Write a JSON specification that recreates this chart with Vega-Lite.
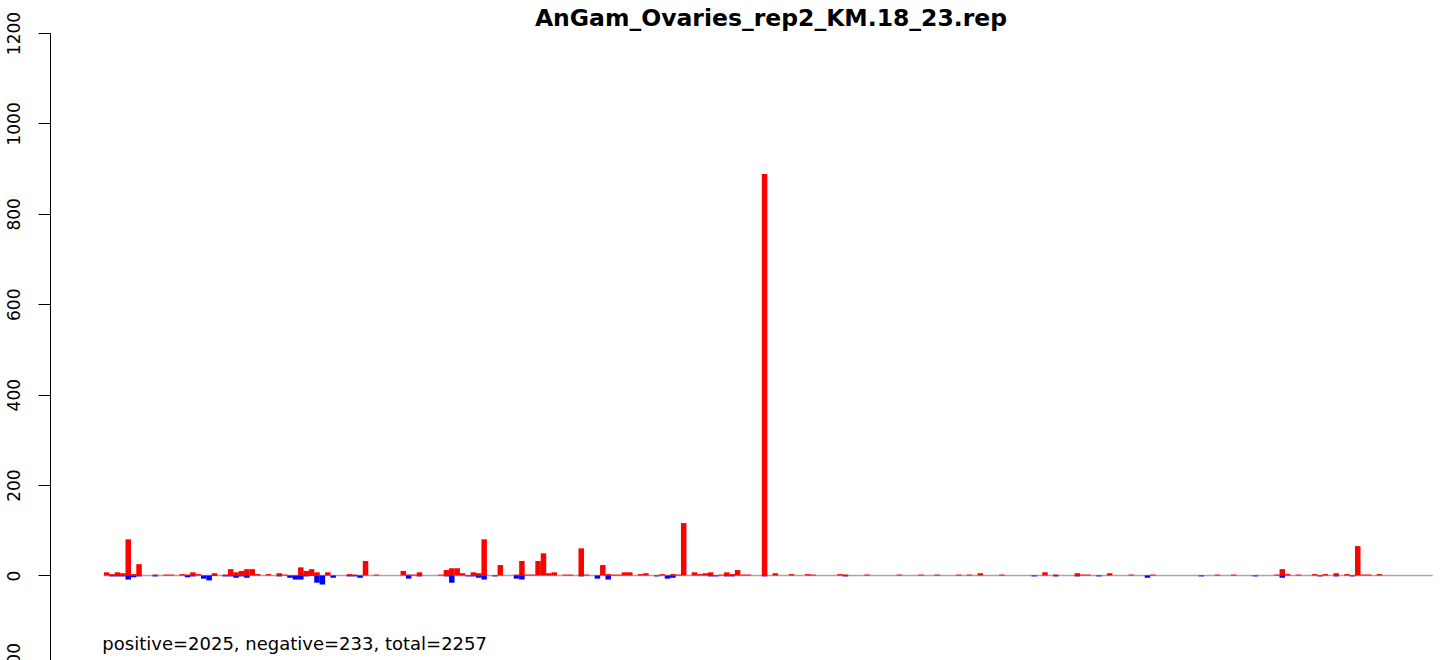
{
  "$schema": "https://vega.github.io/schema/vega-lite/v6.json",
  "width": 1394,
  "height": 627,
  "autosize": "none",
  "padding": {"left": 50, "top": 33, "right": 0, "bottom": 0},
  "background": "white",
  "config": {"view": {"stroke": null}},
  "title": {
    "text": "AnGam_Ovaries_rep2_KM.18_23.rep",
    "font": "DejaVu Sans",
    "fontSize": 23.5,
    "fontWeight": "bold",
    "color": "black",
    "anchor": "middle",
    "frame": "group",
    "baseline": "alphabetic",
    "offset": 0,
    "dx": 24,
    "dy": 38
  },
  "datasets": {
    "counts": [
      {"k":0,"s":"pos","v":7},{"k":1,"s":"pos","v":3},{"k":2,"s":"pos","v":7},{"k":3,"s":"pos","v":5},{"k":4,"s":"pos","v":80},{"k":5,"s":"pos","v":3},{"k":6,"s":"pos","v":25},{"k":9,"s":"pos","v":2},{"k":11,"s":"pos","v":2},{"k":12,"s":"pos","v":2},{"k":14,"s":"pos","v":3},{"k":15,"s":"pos","v":2},{"k":16,"s":"pos","v":7},{"k":17,"s":"pos","v":3},{"k":20,"s":"pos","v":5},{"k":22,"s":"pos","v":2},{"k":23,"s":"pos","v":14},{"k":24,"s":"pos","v":7},{"k":25,"s":"pos","v":10},{"k":26,"s":"pos","v":14},{"k":27,"s":"pos","v":14},{"k":28,"s":"pos","v":3},{"k":30,"s":"pos","v":3},{"k":32,"s":"pos","v":5},{"k":33,"s":"pos","v":2},{"k":36,"s":"pos","v":18},{"k":37,"s":"pos","v":10},{"k":38,"s":"pos","v":14},{"k":39,"s":"pos","v":7},{"k":41,"s":"pos","v":7},{"k":45,"s":"pos","v":3},{"k":46,"s":"pos","v":2},{"k":48,"s":"pos","v":32},{"k":50,"s":"pos","v":2},
      {"k":55,"s":"pos","v":10},{"k":56,"s":"pos","v":2},{"k":57,"s":"pos","v":2},{"k":58,"s":"pos","v":7},{"k":62,"s":"pos","v":2},{"k":63,"s":"pos","v":12},{"k":64,"s":"pos","v":16},{"k":65,"s":"pos","v":16},{"k":66,"s":"pos","v":5},{"k":68,"s":"pos","v":7},{"k":69,"s":"pos","v":5},{"k":70,"s":"pos","v":80},{"k":73,"s":"pos","v":23},{"k":76,"s":"pos","v":2},{"k":77,"s":"pos","v":32},{"k":78,"s":"pos","v":2},{"k":79,"s":"pos","v":2},{"k":80,"s":"pos","v":32},{"k":81,"s":"pos","v":49},{"k":82,"s":"pos","v":5},{"k":83,"s":"pos","v":7},{"k":85,"s":"pos","v":2},{"k":86,"s":"pos","v":2},{"k":88,"s":"pos","v":60},{"k":89,"s":"pos","v":2},{"k":92,"s":"pos","v":23},{"k":93,"s":"pos","v":3},{"k":94,"s":"pos","v":2},{"k":95,"s":"pos","v":2},{"k":96,"s":"pos","v":7},{"k":97,"s":"pos","v":7},{"k":99,"s":"pos","v":3},{"k":100,"s":"pos","v":5},{"k":103,"s":"pos","v":3},{"k":105,"s":"pos","v":3},{"k":106,"s":"pos","v":2},{"k":107,"s":"pos","v":116},
      {"k":109,"s":"pos","v":7},{"k":110,"s":"pos","v":3},{"k":111,"s":"pos","v":5},{"k":112,"s":"pos","v":7},{"k":114,"s":"pos","v":2},{"k":115,"s":"pos","v":7},{"k":116,"s":"pos","v":3},{"k":117,"s":"pos","v":12},{"k":118,"s":"pos","v":2},{"k":119,"s":"pos","v":2},{"k":122,"s":"pos","v":888},{"k":124,"s":"pos","v":5},{"k":127,"s":"pos","v":3},{"k":130,"s":"pos","v":3},{"k":131,"s":"pos","v":2},{"k":136,"s":"pos","v":3},{"k":137,"s":"pos","v":2},{"k":141,"s":"pos","v":2},{"k":147,"s":"pos","v":2},{"k":151,"s":"pos","v":2},{"k":154,"s":"pos","v":2},{"k":158,"s":"pos","v":2},{"k":160,"s":"pos","v":2},{"k":162,"s":"pos","v":5},{"k":166,"s":"pos","v":2},{"k":174,"s":"pos","v":7},{"k":176,"s":"pos","v":2},{"k":180,"s":"pos","v":5},{"k":181,"s":"pos","v":2},{"k":182,"s":"pos","v":2},{"k":186,"s":"pos","v":5},{"k":190,"s":"pos","v":2},{"k":194,"s":"pos","v":2},{"k":206,"s":"pos","v":2},{"k":209,"s":"pos","v":2},{"k":217,"s":"pos","v":2},{"k":218,"s":"pos","v":14},{"k":219,"s":"pos","v":3},{"k":221,"s":"pos","v":2},{"k":224,"s":"pos","v":3},{"k":226,"s":"pos","v":3},{"k":228,"s":"pos","v":5},{"k":230,"s":"pos","v":3},{"k":232,"s":"pos","v":65},{"k":233,"s":"pos","v":2},{"k":234,"s":"pos","v":2},{"k":236,"s":"pos","v":3},
      {"k":1,"s":"neg","v":-2},{"k":2,"s":"neg","v":-2},{"k":3,"s":"neg","v":-2},{"k":4,"s":"neg","v":-9},{"k":5,"s":"neg","v":-4},{"k":6,"s":"neg","v":-2},{"k":9,"s":"neg","v":-2},{"k":15,"s":"neg","v":-4},{"k":16,"s":"neg","v":-2},{"k":18,"s":"neg","v":-7},{"k":19,"s":"neg","v":-11},{"k":20,"s":"neg","v":-1},{"k":22,"s":"neg","v":-2},{"k":23,"s":"neg","v":-2},{"k":24,"s":"neg","v":-5},{"k":25,"s":"neg","v":-2},{"k":26,"s":"neg","v":-5},{"k":32,"s":"neg","v":-2},{"k":34,"s":"neg","v":-5},{"k":35,"s":"neg","v":-9},{"k":36,"s":"neg","v":-9},{"k":37,"s":"neg","v":-2},{"k":38,"s":"neg","v":-1},{"k":39,"s":"neg","v":-16},{"k":40,"s":"neg","v":-20},{"k":42,"s":"neg","v":-5},{"k":45,"s":"neg","v":-2},{"k":46,"s":"neg","v":-2},{"k":47,"s":"neg","v":-5},
      {"k":56,"s":"neg","v":-7},{"k":58,"s":"neg","v":-2},{"k":63,"s":"neg","v":-2},{"k":64,"s":"neg","v":-16},{"k":67,"s":"neg","v":-2},{"k":68,"s":"neg","v":-2},{"k":69,"s":"neg","v":-5},{"k":70,"s":"neg","v":-9},{"k":72,"s":"neg","v":-2},{"k":76,"s":"neg","v":-7},{"k":77,"s":"neg","v":-9},{"k":88,"s":"neg","v":-2},{"k":91,"s":"neg","v":-7},{"k":93,"s":"neg","v":-9},{"k":102,"s":"neg","v":-2},{"k":104,"s":"neg","v":-7},{"k":105,"s":"neg","v":-5},{"k":112,"s":"neg","v":-2},{"k":113,"s":"neg","v":-2},{"k":115,"s":"neg","v":-2},{"k":116,"s":"neg","v":-2},{"k":122,"s":"neg","v":-2},{"k":137,"s":"neg","v":-2},{"k":172,"s":"neg","v":-2},{"k":176,"s":"neg","v":-2},{"k":180,"s":"neg","v":-2},{"k":184,"s":"neg","v":-2},{"k":193,"s":"neg","v":-5},{"k":203,"s":"neg","v":-2},{"k":213,"s":"neg","v":-2},{"k":218,"s":"neg","v":-5},{"k":225,"s":"neg","v":-2},{"k":228,"s":"neg","v":-2},{"k":231,"s":"neg","v":-2}
    ],
    "note": [{"label": "positive=2025, negative=233, total=2257"}]
  },
  "layer": [
    {
      "data": {"name": "note"},
      "mark": {"type": "rule", "stroke": "#A6A6A6", "strokeWidth": 1.6},
      "encoding": {
        "x": {"datum": -0.5, "type": "quantitative", "scale": {"domain": [-10.51, 247.99], "nice": false, "zero": false, "padding": 0}, "axis": null},
        "x2": {"datum": 245.9},
        "y": {"datum": 0, "type": "quantitative", "scale": {"domain": [-200, 1200], "range": [632.9, 0], "nice": false, "zero": false, "padding": 0}, "axis": {
          "orient": "left",
          "values": [-200, 0, 200, 400, 600, 800, 1000, 1200],
          "format": "d",
          "grid": false,
          "title": null,
          "domainColor": "black",
          "domainWidth": 1,
          "tickColor": "black",
          "tickWidth": 1,
          "tickSize": 12,
          "labelAngle": 270,
          "labelAlign": "center",
          "labelBaseline": "alphabetic",
          "labelPadding": 19,
          "labelFont": "DejaVu Sans",
          "labelFontSize": 17,
          "labelColor": "black",
          "labelOverlap": false,
          "labelFlush": false
        }}
      }
    },
    {
      "data": {"name": "counts"},
      "mark": {"type": "bar", "orient": "vertical", "width": 5.5, "cornerRadius": 0},
      "encoding": {
        "x": {"field": "k", "type": "quantitative"},
        "y": {"field": "v", "type": "quantitative", "stack": null},
        "color": {"field": "s", "type": "nominal", "scale": {"domain": ["pos", "neg"], "range": ["#FF0000", "#0000FF"]}, "legend": null}
      }
    },
    {
      "data": {"name": "note"},
      "mark": {"type": "text", "align": "left", "baseline": "alphabetic", "font": "DejaVu Sans", "fontSize": 18, "color": "black"},
      "encoding": {
        "x": {"datum": -0.8, "type": "quantitative"},
        "y": {"datum": -165, "type": "quantitative"},
        "text": {"field": "label"}
      }
    }
  ]
}
